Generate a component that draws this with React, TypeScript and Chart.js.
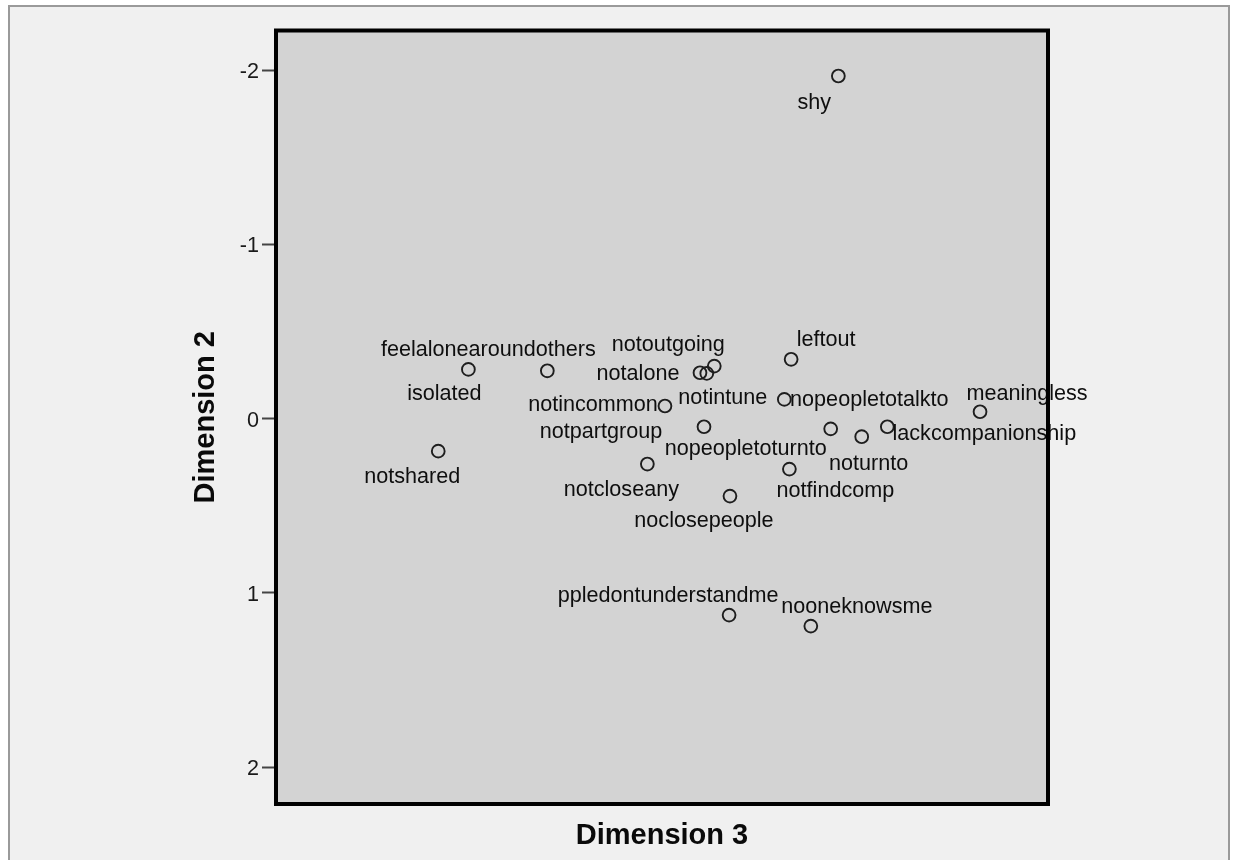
import React, { useEffect, useRef } from "react";
import { Chart, registerables } from "chart.js";

Chart.register(...registerables);

// ---- data ----
const pointNames = [
  "shy",
  "isolated",
  "feelalonearoundothers",
  "notalone",
  "notintune",
  "notoutgoing",
  "notincommon",
  "notpartgroup",
  "notshared",
  "notcloseany",
  "noclosepeople",
  "leftout",
  "nopeopletotalkto",
  "meaningless",
  "nopeopletoturnto",
  "noturnto",
  "lackcompanionship",
  "notfindcomp",
  "ppledontunderstandme",
  "nooneknowsme",
];
const dimension3 = [
  1.027, -1.096, -0.643, 0.233, 0.272, 0.315, 0.032, 0.256, -1.269, -0.069,
  0.405, 0.756, 0.717, 1.84, 0.983, 1.161, 1.308, 0.746, 0.4, 0.869,
];
const dimension2 = [
  -1.966, -0.282, -0.274, -0.263, -0.259, -0.301, -0.072, 0.047, 0.187, 0.261,
  0.445, -0.34, -0.11, -0.039, 0.059, 0.104, 0.047, 0.29, 1.128, 1.191,
];
const yTickValues = [-2, -1, 0, 1, 2];
const xRange = [-2.2, 2.23];
const yRange = [-2.227, 2.212];

// label placement relative to its point (pixels: centre x offset, baseline y offset)
const labelPlacement: [number, number][] = [
  [-24, 33],
  [-24, 31],
  [-59, -15],
  [-62, 7],
  [16, 31],
  [-46, -15],
  [-72, 5],
  [-103, 11],
  [-26, 32],
  [-26, 32],
  [-26, 31],
  [35, -13],
  [85, 7],
  [47, -12],
  [-85, 26],
  [7, 33],
  [97, 13],
  [46, 28],
  [-61, -13],
  [46, -13],
];

const FONT = '"Liberation Sans", Arial, sans-serif';

const decorPlugin = {
  id: "spssDecor",
  beforeDraw(chart: any) {
    const { ctx, chartArea } = chart;
    ctx.save();
    ctx.fillStyle = "#d3d3d3";
    ctx.fillRect(
      chartArea.left,
      chartArea.top,
      chartArea.right - chartArea.left,
      chartArea.bottom - chartArea.top
    );
    ctx.restore();
  },
  afterDatasetsDraw(chart: any) {
    const { ctx, chartArea } = chart;
    const xs = chart.scales.x;
    const ys = chart.scales.y;
    ctx.save();
    ctx.font = `21.6px ${FONT}`;
    ctx.fillStyle = "#0e0e0e";
    ctx.textAlign = "center";
    ctx.textBaseline = "alphabetic";
    pointNames.forEach((name, i) => {
      const px = xs.getPixelForValue(dimension3[i]);
      const py = ys.getPixelForValue(dimension2[i]);
      const [dx, dy] = labelPlacement[i];
      ctx.fillText(name, px + dx, py + dy);
    });
    // thick black plot frame drawn over the labels
    ctx.strokeStyle = "#000";
    ctx.lineWidth = 4;
    ctx.strokeRect(
      chartArea.left,
      chartArea.top,
      chartArea.right - chartArea.left,
      chartArea.bottom - chartArea.top
    );
    ctx.restore();
  },
};

export default function App() {
  const canvasRef = useRef<HTMLCanvasElement | null>(null);

  useEffect(() => {
    const canvas = canvasRef.current;
    if (!canvas) return;
    const chart = new Chart(canvas, {
      type: "scatter",
      data: {
        datasets: [
          {
            data: dimension3.map((x, i) => ({ x, y: dimension2[i] })),
            pointRadius: 6.4,
            pointHoverRadius: 6.4,
            pointBorderWidth: 1.9,
            borderColor: "#1e1e1e",
            backgroundColor: "rgba(0,0,0,0)",
            pointBackgroundColor: "rgba(0,0,0,0)",
            pointBorderColor: "#1e1e1e",
          },
        ],
      },
      options: {
        animation: false,
        responsive: false,
        devicePixelRatio: 1,
        events: [],
        layout: { padding: { left: 175, top: 23.5, right: 180, bottom: 2.6 } },
        plugins: {
          legend: { display: false },
          tooltip: { enabled: false },
        },
        scales: {
          x: {
            type: "linear",
            min: xRange[0],
            max: xRange[1],
            ticks: { display: false },
            grid: { display: false, drawTicks: false },
            border: { display: false },
            afterFit: (s: any) => {
              s.height = 53.4;
            },
            title: {
              display: true,
              text: "Dimension 3",
              color: "#0a0a0a",
              font: { family: FONT, size: 29, weight: "bold" },
              padding: { top: 4, bottom: 4 },
            },
          },
          y: {
            type: "linear",
            reverse: true,
            min: yRange[0],
            max: yRange[1],
            afterBuildTicks: (s: any) => {
              s.ticks = yTickValues.map((v) => ({ value: v }));
            },
            afterFit: (s: any) => {
              s.width = 91;
            },
            ticks: {
              color: "#1a1a1a",
              font: { family: FONT, size: 21.6 },
              padding: 3,
              labelOffset: 2,
              callback: (v: any) => String(v),
            },
            grid: {
              drawOnChartArea: false,
              drawTicks: true,
              tickLength: 14,
              tickWidth: 2,
              tickColor: "#444",
            },
            border: { display: false },
            title: {
              display: true,
              text: "Dimension 2",
              color: "#0a0a0a",
              font: { family: FONT, size: 29, weight: "bold" },
              padding: { top: 4, bottom: 4 },
            },
          },
        },
      } as any,
      plugins: [decorPlugin],
    });
    return () => chart.destroy();
  }, []);

  return (
    <div
      style={{
        position: "absolute",
        left: 8,
        top: 5,
        width: 1222,
        height: 855,
        overflow: "hidden",
      }}
    >
      <div
        style={{
          width: 1222,
          height: 870,
          boxSizing: "border-box",
          border: "2px solid #9a9a9a",
          background: "#f0f0f0",
        }}
      >
        <canvas
          ref={canvasRef}
          width={1218}
          height={853}
          style={{ display: "block", width: 1218, height: 853 }}
        />
      </div>
    </div>
  );
}
